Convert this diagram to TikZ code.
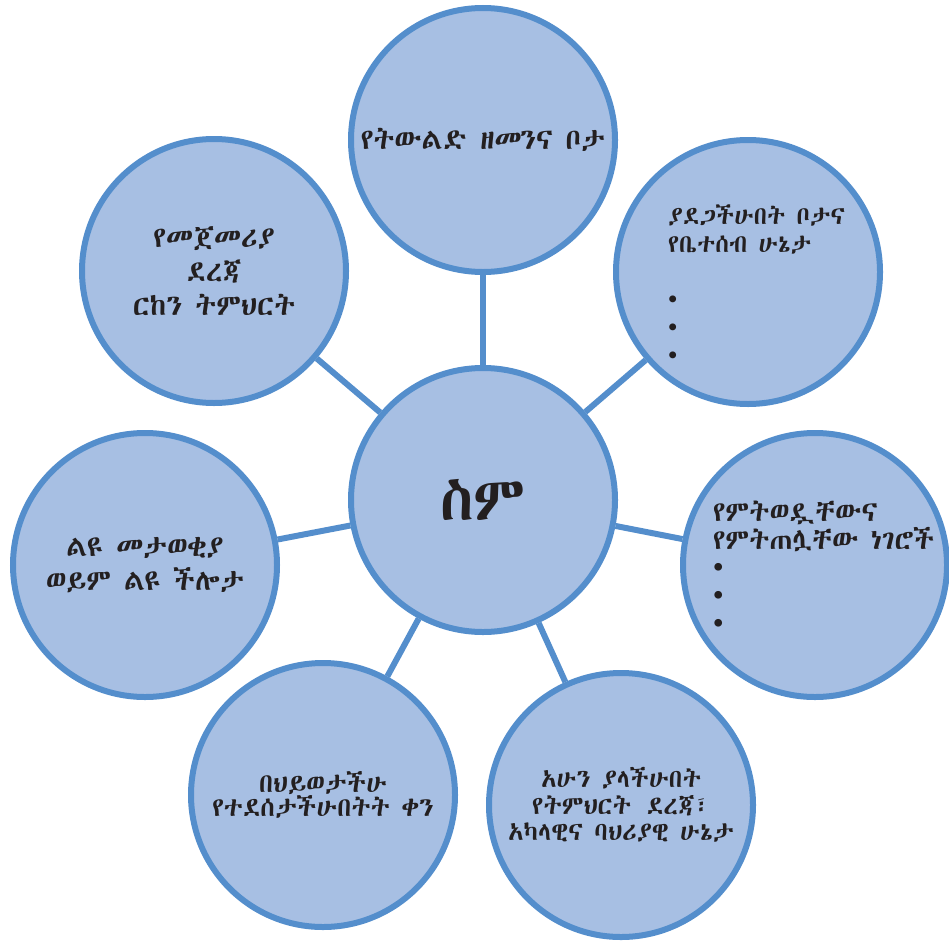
\documentclass[tikz,border=0pt]{standalone}
\usepackage{fontspec}
\IfFontExistsTF{Abyssinica SIL}
    {\newfontfamily\ethfont{Abyssinica SIL}}
    {\IfFontExistsTF{Ethiopia Jiret}
        {\newfontfamily\ethfont{Ethiopia Jiret}}
        {\newfontfamily\ethfont{DejaVu Sans}}}
\definecolor{rim}{RGB}{84,142,204}
\definecolor{disc}{RGB}{167,191,227}
\definecolor{ink}{RGB}{35,31,32}

\begin{document}
\begin{tikzpicture}[x=1pt, y=-1pt,
    bubble/.style={circle, draw=rim, fill=disc, line width=6pt,
        minimum size=264pt, inner sep=0pt, align=center, text=ink},
    words/.style={text=ink, inner sep=0pt, align=left},
    link/.style={draw=rim, line width=6pt}]

    \useasboundingbox (0,0) rectangle (949,942);

    \node[bubble, font=\ethfont\fontsize{61}{64}\selectfont] (name) at (483,500) {ስም};
    \node[bubble, font=\ethfont\fontsize{29}{32}\selectfont] (birth) at (483,140) {የትውልድ ዘመንና ቦታ};
    \node[bubble, font=\ethfont\fontsize{29}{34}\selectfont] (school) at (214,271) {የመጀመሪያ\\ደረጃ\\ርከን ትምህርት};
    \node[bubble] (home) at (748,272) {};
    \node[words, anchor=west, font=\ethfont\fontsize{25}{28}\selectfont] (hometxt) at (668,285) {ያደጋችሁበት ቦታና\\የቤተሰብ ሁኔታ\\[28pt]•\\•\\•};
    \node[bubble] (likes) at (815,565) {};
    \node[words, anchor=west, font=\ethfont\fontsize{28}{28}\selectfont] (likestxt) at (713,567) {የምትወዷቸውና\\የምትጠሏቸው ነገሮች\\•\\•\\•};
    \node[bubble, font=\ethfont\fontsize{25.5}{26.5}\selectfont] (now) at (621,805) {አሁን ያላችሁበት\\የትምህርት\hspace{4pt} ደረጃ፣\\አካላዊና ባህሪያዊ ሁኔታ};
    \node[bubble, font=\ethfont\fontsize{26.5}{24}\selectfont] (joy) at (323,795) {በህይወታችሁ\\የተደሰታችሁበትት ቀን};
    \node[bubble, font=\ethfont\fontsize{29}{34}\selectfont] (gift) at (145,565) {ልዩ መታወቂያ\\ወይም ልዩ ችሎታ};

    \draw[link] (name) -- (birth);
    \draw[link] (name) -- (home);
    \draw[link] (name) -- (likes);
    \draw[link] (name) -- (now);
    \draw[link] (name) -- (joy);
    \draw[link] (name) -- (gift);
    \draw[link] (name) -- (school);
\end{tikzpicture}
\end{document}
